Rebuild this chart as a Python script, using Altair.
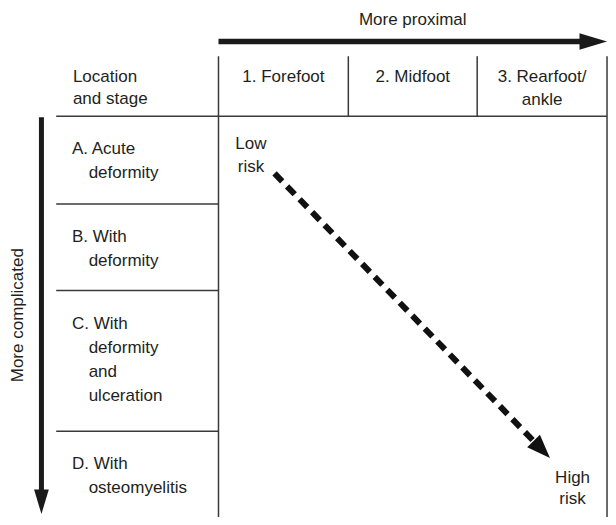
import math
import altair as alt
import pandas as pd

# ---------------- content ----------------
column_labels = [["1. Forefoot"], ["2. Midfoot"], ["3. Rearfoot/", "ankle"]]
row_labels = [
    ["A. Acute", "deformity"],
    ["B. With", "deformity"],
    ["C. With", "deformity", "and", "ulceration"],
    ["D. With", "osteomyelitis"],
]
corner_label = ["Location", "and stage"]
top_arrow_label = "More proximal"
side_arrow_label = "More complicated"
low_label = ["Low", "risk"]
high_label = ["High", "risk"]

# ---------------- layout (reference pixel units) ----------------
col_edges = [220, 352, 483, 615]
row_edges = [118, 207, 295, 438, 525]
header_top = 57
table_left = 55
row_first_x, row_next_x = 71, 88
line_gap = 24.5
text_dy = 3
risk_start = (277, 176)
risk_tip = (557, 465)

INK = "#231f20"
GRID = "#3a3a3a"
FONT = "Liberation Sans"
FS = 17

xs = alt.Scale(domain=[6, 616], nice=False, zero=False)
ys = alt.Scale(domain=[8, 525], nice=False, zero=False, reverse=True)
K = 600 / 610.0  # px per reference unit


def enc_xy(extra=True):
    d = dict(x=alt.X("x:Q", scale=xs, axis=None), y=alt.Y("y:Q", scale=ys, axis=None))
    if extra:
        d["x2"] = alt.X2("x2:Q")
        d["y2"] = alt.Y2("y2:Q")
    return d


# grid lines
grid = []
for k, xe in enumerate(col_edges):
    full = k in (0, len(col_edges) - 1)
    grid.append(dict(x=xe, x2=xe, y=header_top, y2=row_edges[-1] if full else row_edges[0]))
grid.append(dict(x=table_left, x2=col_edges[-1], y=row_edges[0], y2=row_edges[0]))
for ye in row_edges[1:-1]:
    grid.append(dict(x=table_left, x2=col_edges[0], y=ye, y2=ye))
grid_df = pd.DataFrame(grid)
grid_layer = alt.Chart(grid_df).mark_rule(color=GRID, strokeWidth=1.5).encode(**enc_xy())

# texts
texts = []
for k, lines in enumerate(column_labels):
    cx = (col_edges[k] + col_edges[k + 1]) / 2
    for j, t in enumerate(lines):
        texts.append(dict(x=cx, y=75 + 23.5 * j, t=t, a="center"))
for j, t in enumerate(corner_label):
    texts.append(dict(x=72, y=75 + 22.5 * j, t=t, a="left"))
for i, lines in enumerate(row_labels):
    for j, t in enumerate(lines):
        texts.append(dict(x=row_first_x if j == 0 else row_next_x,
                          y=row_edges[i] + 30.5 + line_gap * j, t=t, a="left"))
for j, t in enumerate(low_label):
    texts.append(dict(x=253, y=143 + 23.5 * j, t=t, a="center"))
for j, t in enumerate(high_label):
    texts.append(dict(x=580, y=482 + 22 * j, t=t, a="center"))
texts.append(dict(x=(col_edges[0] + col_edges[-1]) / 2, y=17, t=top_arrow_label, a="center"))
tdf = pd.DataFrame(texts)
tdf["y"] = tdf["y"] + text_dy

left_text = alt.Chart(tdf[tdf.a == "left"]).mark_text(
    align="left", baseline="middle", font=FONT, fontSize=FS, color=INK
).encode(text="t:N", **enc_xy(False))
center_text = alt.Chart(tdf[tdf.a == "center"]).mark_text(
    align="center", baseline="middle", font=FONT, fontSize=FS, color=INK
).encode(text="t:N", **enc_xy(False))
side_text = alt.Chart(pd.DataFrame([dict(x=16, y=320, t=side_arrow_label)])).mark_text(
    align="center", baseline="middle", font=FONT, fontSize=FS, color=INK, angle=270
).encode(text="t:N", **enc_xy(False))

# top arrow
h_head_len = 28
top_shaft = alt.Chart(pd.DataFrame([dict(x=col_edges[0], x2=col_edges[-1] - h_head_len + 4, y=42, y2=42)])).mark_rule(
    color="#1a1a1a", strokeWidth=5.5, strokeCap="butt").encode(**enc_xy())
top_head = alt.Chart(pd.DataFrame([dict(x=col_edges[-1] - h_head_len / 2, y=42)])).mark_point(
    shape="M-1,-0.6L1,0L-1,0.6Z", filled=True, opacity=1, color="#1a1a1a",
    size=(h_head_len * K) ** 2, strokeWidth=0).encode(**enc_xy(False))

# side arrow
v_head_len = 25
v_tip = 522
side_shaft = alt.Chart(pd.DataFrame([dict(x=40, x2=40, y=row_edges[0] + 1, y2=v_tip - v_head_len + 4)])).mark_rule(
    color="#1a1a1a", strokeWidth=5, strokeCap="butt").encode(**enc_xy())
side_head = alt.Chart(pd.DataFrame([dict(x=40, y=v_tip - v_head_len / 2)])).mark_point(
    shape="M-0.6,-1L0,1L0.6,-1Z", filled=True, opacity=1, color="#1a1a1a",
    size=(v_head_len * K) ** 2, strokeWidth=0).encode(**enc_xy(False))

# risk arrow
dx = risk_tip[0] - risk_start[0]
dy = risk_tip[1] - risk_start[1]
dist = math.hypot(dx, dy)
ux, uy = dx / dist, dy / dist
d_head_len = 24
ang = math.degrees(math.atan2(dy, dx))
end = (risk_tip[0] - ux * (d_head_len - 3), risk_tip[1] - uy * (d_head_len - 3))
diag = alt.Chart(pd.DataFrame([dict(x=risk_start[0], y=risk_start[1], x2=end[0], y2=end[1])])).mark_rule(
    color="#111111", strokeWidth=6, strokeDash=[11, 7], strokeCap="butt").encode(**enc_xy())
diag_head = alt.Chart(pd.DataFrame([dict(x=risk_tip[0] - ux * d_head_len / 2,
                                         y=risk_tip[1] - uy * d_head_len / 2)])).mark_point(
    shape="M-1,-0.75L1,0L-1,0.75Z", filled=True, opacity=1, color="#111111",
    size=(d_head_len * K) ** 2, strokeWidth=0, angle=ang).encode(**enc_xy(False))

chart = alt.layer(
    grid_layer, top_shaft, top_head, side_shaft, side_head, diag, diag_head,
    left_text, center_text, side_text,
).properties(
    width=600, height=509, padding=0, autosize=alt.AutoSizeParams(type="none"),
    background="white",
).configure_view(stroke=None)

chart.save("out.html", embed_options={"renderer": "svg", "actions": False})
